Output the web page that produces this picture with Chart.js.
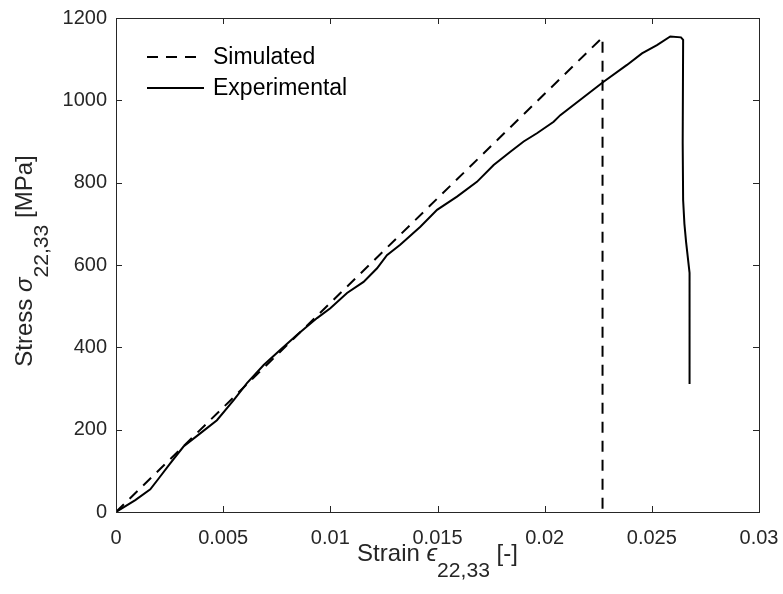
<!DOCTYPE html>
<html>
<head>
<meta charset="utf-8">
<script src="https://cdn.jsdelivr.net/npm/chart.js@4.4.1/dist/chart.umd.min.js"></script>
<style>
  html, body { margin: 0; padding: 0; background: #fff; }
</style>
</head>
<body>
<canvas id="stressStrain" width="783" height="594"></canvas>
<script>
// Simulated response: linear up to failure, then sudden drop
const simStrain = [0, 0.0227, 0.0227];
const simStress = [0, 1153, 0];

// Experimental curve
const expStrain = [0, 0.0009, 0.0016, 0.0020, 0.00253, 0.00315, 0.00393, 0.00471, 0.00549, 0.00611,
  0.00689, 0.00767, 0.00844, 0.00938, 0.0100, 0.01078, 0.01155, 0.01218, 0.01264, 0.01326,
  0.0142, 0.01498, 0.01591, 0.01684, 0.01762, 0.0184, 0.01902, 0.01964, 0.02042, 0.02073,
  0.02275, 0.02384, 0.02454, 0.02524, 0.02586, 0.02636, 0.02646, 0.02644, 0.02646, 0.02652,
  0.0266, 0.02676, 0.02676];
const expStress = [0, 29, 55, 82, 118, 159, 191, 223, 272, 313,
  357, 394, 430, 471, 495, 532, 559, 592, 624, 649,
  693, 734, 766, 802, 843, 875, 900, 920, 948, 964,
  1045, 1086, 1114, 1134, 1155, 1153, 1147, 896, 758, 700,
  655, 581, 311];

const seriesNames = ["Simulated", "Experimental"];
const xTicks = [0, 0.005, 0.01, 0.015, 0.02, 0.025, 0.03];
const xTickLabels = ["0", "0.005", "0.01", "0.015", "0.02", "0.025", "0.03"];
const yTicks = [0, 200, 400, 600, 800, 1000, 1200];
const yTickLabels = ["0", "200", "400", "600", "800", "1000", "1200"];

const axisColor = "#262626";
const fontFamily = "'Liberation Sans', Arial, sans-serif";
const tickFont = 20;
const titleFont = 24;
const subScale = 0.88;
const subDrop = 0.68;
const legendFont = 23;

function toPoints(xs, ys) {
  return xs.map((v, i) => ({ x: v, y: ys[i] }));
}

// label pieces: plain, italic symbol, subscript
function measureParts(ctx, parts, size) {
  let w = 0;
  parts.forEach((p) => {
    p.size = p.sub ? size * subScale : size;
    ctx.font = (p.italic ? "italic " : "") + p.size + "px " + fontFamily;
    p.w = ctx.measureText(p.t).width;
    w += p.w;
  });
  return w;
}

function drawParts(ctx, parts, size) {
  const total = measureParts(ctx, parts, size);
  let cx = -total / 2;
  parts.forEach((p) => {
    ctx.font = (p.italic ? "italic " : "") + p.size + "px " + fontFamily;
    ctx.fillText(p.t, cx, p.sub ? size * subDrop : 0);
    cx += p.w;
  });
}

const framePlugin = {
  id: "frame",
  afterDraw(chart) {
    const { ctx, chartArea: a, scales } = chart;
    const xs = scales.x, ys = scales.y;
    ctx.save();
    ctx.strokeStyle = axisColor;
    ctx.lineWidth = 1;
    ctx.setLineDash([]);
    ctx.strokeRect(Math.round(a.left) + 0.5, Math.round(a.top) + 0.5,
      Math.round(a.right - a.left), Math.round(a.bottom - a.top));

    // inward tick marks on all four sides
    const tl = 6;
    ctx.beginPath();
    xTicks.forEach((v) => {
      const px = Math.round(xs.getPixelForValue(v)) + 0.5;
      ctx.moveTo(px, a.bottom); ctx.lineTo(px, a.bottom - tl);
      ctx.moveTo(px, a.top); ctx.lineTo(px, a.top + tl);
    });
    yTicks.forEach((v) => {
      const py = Math.round(ys.getPixelForValue(v)) + 0.5;
      ctx.moveTo(a.left, py); ctx.lineTo(a.left + tl, py);
      ctx.moveTo(a.right, py); ctx.lineTo(a.right - tl, py);
    });
    ctx.stroke();

    // axis titles
    ctx.fillStyle = axisColor;
    ctx.textBaseline = "alphabetic";
    ctx.textAlign = "left";
    ctx.save();
    ctx.translate((a.left + a.right) / 2, 561);
    drawParts(ctx, [
      { t: "Strain " },
      { t: "\u03F5", italic: true },
      { t: "22,33", sub: true },
      { t: " [-]" }
    ], titleFont);
    ctx.restore();

    ctx.save();
    ctx.translate(32, 261);
    ctx.rotate(-Math.PI / 2);
    drawParts(ctx, [
      { t: "Stress " },
      { t: "\u03C3", italic: true },
      { t: "22,33", sub: true },
      { t: " [MPa]" }
    ], titleFont);
    ctx.restore();

    // legend
    const lx = a.left + 31, ly = a.top + 39, lw = 57, gap = 31;
    ctx.strokeStyle = "#000";
    ctx.lineWidth = 2;
    chart.data.datasets.forEach((ds, i) => {
      const y = ly + i * gap;
      ctx.setLineDash(ds.borderDash || []);
      ctx.beginPath();
      ctx.moveTo(lx, y);
      ctx.lineTo(lx + lw, y);
      ctx.stroke();
      ctx.setLineDash([]);
      ctx.fillStyle = "#000";
      ctx.font = legendFont + "px " + fontFamily;
      ctx.textBaseline = "middle";
      ctx.fillText(ds.label, lx + lw + 9, y + 1);
    });
    ctx.restore();
  }
};

new Chart(document.getElementById("stressStrain"), {
  type: "line",
  data: {
    datasets: [
      {
        label: seriesNames[0],
        data: toPoints(simStrain, simStress),
        borderColor: "#000",
        borderWidth: 2,
        borderDash: [11, 8],
        pointRadius: 0,
        fill: false,
        tension: 0
      },
      {
        label: seriesNames[1],
        data: toPoints(expStrain, expStress),
        borderColor: "#000",
        borderWidth: 2,
        pointRadius: 0,
        fill: false,
        tension: 0
      }
    ]
  },
  options: {
    responsive: false,
    animation: false,
    devicePixelRatio: 1,
    layout: { padding: { top: 18, right: 24, left: 0, bottom: 0 } },
    plugins: {
      legend: { display: false },
      tooltip: { enabled: false }
    },
    scales: {
      x: {
        type: "linear",
        min: 0,
        max: 0.03,
        grid: { display: false, drawTicks: false },
        border: { display: false },
        afterBuildTicks: (scale) => { scale.ticks = xTicks.map((v) => ({ value: v })); },
        afterFit: (scale) => {
          scale.height = 82;
          scale.paddingLeft = 0;
          scale.paddingRight = 0;
        },
        ticks: {
          color: axisColor,
          font: { family: fontFamily, size: tickFont },
          padding: 14,
          maxRotation: 0,
          callback: (v) => xTickLabels[xTicks.indexOf(v)]
        }
      },
      y: {
        type: "linear",
        min: 0,
        max: 1200,
        grid: { display: false, drawTicks: false },
        border: { display: false },
        afterBuildTicks: (scale) => { scale.ticks = yTicks.map((v) => ({ value: v })); },
        afterFit: (scale) => {
          scale.width = 116;
          scale.paddingTop = 0;
          scale.paddingBottom = 0;
        },
        ticks: {
          color: axisColor,
          font: { family: fontFamily, size: tickFont },
          padding: 9,
          callback: (v) => yTickLabels[yTicks.indexOf(v)]
        }
      }
    }
  },
  plugins: [framePlugin]
});
</script>
</body>
</html>
